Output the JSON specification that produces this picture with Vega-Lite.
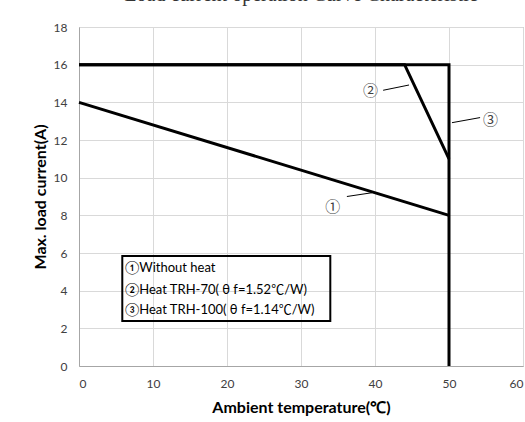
{
  "$schema": "https://vega.github.io/schema/vega-lite/v6.json",
  "width": 444,
  "height": 339,
  "autosize": {"type": "none"},
  "padding": {"left": 79, "top": 27, "right": 2, "bottom": 56},
  "background": "white",
  "title": {
    "text": "Load current operation Curve Characteristic",
    "font": "Liberation Serif",
    "fontSize": 20,
    "fontWeight": "normal",
    "color": "#333333",
    "anchor": "middle",
    "baseline": "alphabetic",
    "offset": 0
  },
  "config": {
    "view": {"stroke": "#a6a6a6", "strokeWidth": 1},
    "axis": {
      "grid": true,
      "gridColor": "#d9d9d9",
      "gridWidth": 1,
      "domainColor": "#a6a6a6",
      "ticks": false,
      "labelOverlap": false,
      "labelFont": "Lato",
      "labelFontSize": 12,
      "labelColor": "#404040",
      "titleFont": "Lato",
      "titleFontSize": 16,
      "titleFontWeight": "bold",
      "titleColor": "#000000"
    }
  },
  "datasets": {
    "curves": [
      {"series": "1", "i": 0, "temp": 0, "current": 14},
      {"series": "1", "i": 1, "temp": 50, "current": 8},
      {"series": "2", "i": 0, "temp": 0, "current": 16},
      {"series": "2", "i": 1, "temp": 44, "current": 16},
      {"series": "2", "i": 2, "temp": 50, "current": 11},
      {"series": "3", "i": 0, "temp": 0, "current": 16},
      {"series": "3", "i": 1, "temp": 50, "current": 16},
      {"series": "3", "i": 2, "temp": 50, "current": 0}
    ],
    "leaders": [
      {"label": "①", "x1": 36.2, "y1": 9.0, "x2": 39.6, "y2": 9.2, "lx": 34.3, "ly": 8.43},
      {"label": "②", "x1": 41.1, "y1": 14.64, "x2": 44.6, "y2": 14.92, "lx": 39.4, "ly": 14.6},
      {"label": "③", "x1": 50.4, "y1": 12.92, "x2": 54.2, "y2": 13.19, "lx": 55.6, "ly": 13.06}
    ],
    "legendbox": [
      {"x1": 5.85, "x2": 33.96, "y1": 5.84, "y2": 2.39}
    ],
    "legendtext": [
      {"text": "①Without heat", "x": 6.2, "y": 5.19},
      {"text": "②Heat TRH-70( θ f=1.52℃/W)", "x": 6.2, "y": 4.04},
      {"text": "③Heat TRH-100( θ f=1.14℃/W)", "x": 6.2, "y": 2.97}
    ]
  },
  "layer": [
    {
      "data": {"name": "curves"},
      "mark": {"type": "line", "color": "black", "strokeWidth": 3, "strokeJoin": "miter", "clip": false},
      "encoding": {
        "x": {"field": "temp", "type": "quantitative", "scale": {"domain": [0, 60], "nice": false, "zero": false}, "axis": {"values": [0, 10, 20, 30, 40, 50, 60], "title": "Ambient temperature(℃)", "labelPadding": 12, "titlePadding": 10}},
        "y": {"field": "current", "type": "quantitative", "scale": {"domain": [0, 18], "nice": false, "zero": false}, "axis": {"values": [0, 2, 4, 6, 8, 10, 12, 14, 16, 18], "title": "Max. load current(A)", "labelPadding": 12, "titlePadding": 5}},
        "detail": {"field": "series"},
        "order": {"field": "i"}
      }
    },
    {
      "data": {"name": "leaders"},
      "mark": {"type": "rule", "color": "black", "strokeWidth": 1},
      "encoding": {
        "x": {"field": "x1", "type": "quantitative", "axis": {"values": [0, 10, 20, 30, 40, 50, 60], "title": "Ambient temperature(℃)", "labelPadding": 12, "titlePadding": 10}},
        "y": {"field": "y1", "type": "quantitative", "axis": {"values": [0, 2, 4, 6, 8, 10, 12, 14, 16, 18], "title": "Max. load current(A)", "labelPadding": 12, "titlePadding": 5}},
        "x2": {"field": "x2"},
        "y2": {"field": "y2"}
      }
    },
    {
      "data": {"name": "leaders"},
      "mark": {"type": "text", "font": "Noto Sans CJK JP", "fontSize": 15, "color": "#404040", "align": "center", "baseline": "middle"},
      "encoding": {
        "x": {"field": "lx", "type": "quantitative", "axis": {"values": [0, 10, 20, 30, 40, 50, 60], "title": "Ambient temperature(℃)", "labelPadding": 12, "titlePadding": 10}},
        "y": {"field": "ly", "type": "quantitative", "axis": {"values": [0, 2, 4, 6, 8, 10, 12, 14, 16, 18], "title": "Max. load current(A)", "labelPadding": 12, "titlePadding": 5}},
        "text": {"field": "label"}
      }
    },
    {
      "data": {"name": "legendbox"},
      "mark": {"type": "rect", "fill": null, "fillOpacity": 0, "stroke": "black", "strokeWidth": 2},
      "encoding": {
        "x": {"field": "x1", "type": "quantitative", "axis": {"values": [0, 10, 20, 30, 40, 50, 60], "title": "Ambient temperature(℃)", "labelPadding": 12, "titlePadding": 10}},
        "x2": {"field": "x2"},
        "y": {"field": "y1", "type": "quantitative", "axis": {"values": [0, 2, 4, 6, 8, 10, 12, 14, 16, 18], "title": "Max. load current(A)", "labelPadding": 12, "titlePadding": 5}},
        "y2": {"field": "y2"}
      }
    },
    {
      "data": {"name": "legendtext"},
      "mark": {"type": "text", "font": "Lato, Noto Sans CJK JP", "fontSize": 13, "color": "#000000", "align": "left", "baseline": "middle"},
      "encoding": {
        "x": {"field": "x", "type": "quantitative", "axis": {"values": [0, 10, 20, 30, 40, 50, 60], "title": "Ambient temperature(℃)", "labelPadding": 12, "titlePadding": 10}},
        "y": {"field": "y", "type": "quantitative", "axis": {"values": [0, 2, 4, 6, 8, 10, 12, 14, 16, 18], "title": "Max. load current(A)", "labelPadding": 12, "titlePadding": 5}},
        "text": {"field": "text"}
      }
    }
  ]
}
